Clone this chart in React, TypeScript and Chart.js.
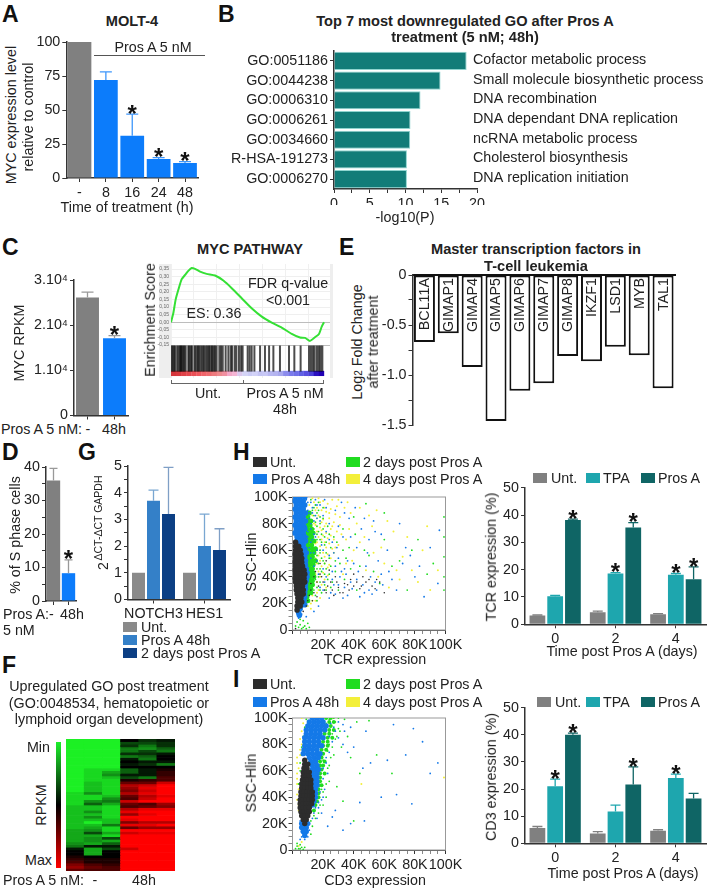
import React, { useEffect, useRef } from "react";
import { Chart, registerables } from "chart.js";
Chart.register(...registerables);

const FONT = '"Liberation Sans", Arial, sans-serif';
const INK = "#222";
const AX = "#333";
const SZ = 14.3;
const TITLE = 14.6;

// Panel A
const aLabels = ["-", "8", "16", "24", "48"];
const aValues = [100, 72, 31, 14, 11];
const aErrTop = [null, 78, 47, 15, 12];
const aStars = [false, false, true, true, true];
// Panel B
const bIds = ["GO:0051186", "GO:0044238", "GO:0006310", "GO:0006261", "GO:0034660", "R-HSA-191273", "GO:0006270"];
const bValues = [18.55, 14.9, 12.1, 10.7, 10.65, 10.2, 10.2];
const bNames = ["Cofactor metabolic process", "Small molecule biosynthetic process", "DNA recombination", "DNA dependant DNA replication", "ncRNA metabolic process", "Cholesterol biosynthesis", "DNA replication initiation"];
// Panel C
const cLabels = ["-", "48h"];
const cValues = [26100, 17100];
const cErrTop = [27300, 17700];
// GSEA
const gseaRank = [0, 1.5, 3, 4.8, 7, 9.2, 11.3, 13.5, 15.7, 19, 23.3, 28.8, 34.2, 39.7, 46.2, 52.7, 59.3, 65.8, 72.3, 78.9, 84.3, 87.6, 90.8, 94.1, 96.7, 98.5, 100];
const gseaScore = [0, 0.059, 0.147, 0.213, 0.283, 0.311, 0.338, 0.357, 0.351, 0.333, 0.318, 0.307, 0.274, 0.224, 0.158, 0.092, 0.037, -0.002, -0.035, -0.077, -0.101, -0.103, -0.123, -0.099, -0.077, -0.029, 0];
const gseaTicks = [-0.15, -0.1, -0.05, 0, 0.05, 0.1, 0.15, 0.2, 0.25, 0.3, 0.35];
const gseaHits = [0.4, 1.1, 2, 2.8, 4.1, 5, 5.9, 6.5, 7.2, 8.1, 8.7, 9.6, 11.3, 12, 12.9, 13.7, 15.3, 16.1, 17.2, 17.9, 18.7, 19.8, 20.7, 21.6, 22.7, 23.7, 24.6, 25.3, 26.4, 27, 27.9, 28.8, 29.8, 31.6, 32.7, 33.8, 35.7, 37.5, 39, 39.9, 41.6, 42.7, 44.4, 45.8, 46.8, 50.1, 51.4, 52.7, 54.5, 58.2, 61.4, 64.1, 66.9, 71.2, 77.1, 80.6, 84.7, 90.2, 91.5, 92.8, 93.9, 95.4, 96.7, 97.8, 98.9];
const ribbonColors = ["#d5343a", "#d8383e", "#e04248", "#e4484e", "#ea5056", "#ee585e", "#f0646a", "#ee6c70", "#ee7a7e", "#ee8a8e", "#f090a0", "#f4a8c8", "#f4b4d4", "#dcc8ee", "#d4d4f6", "#ccccf6", "#d2d2f8", "#c4c4f4", "#c8c8f6", "#b8b8f2", "#b4b4f0", "#a8a8ee", "#8c8cec", "#7a7aea", "#7070e8", "#6060e4", "#5850e0", "#4a40d8", "#2a10c0", "#2000b4"];
// Panel D
const dLabels = ["-", "48h"];
const dValues = [36, 8.3];
const dErrTop = [39.6, 12.3];
// Panel E
const eGenes = ["BCL11A", "GIMAP1", "GIMAP4", "GIMAP5", "GIMAP6", "GIMAP7", "GIMAP8", "IKZF1", "LSD1", "MYB", "TAL1"];
const eValues = [-0.67, -0.583, -0.92, -1.46, -1.157, -1.083, -0.81, -0.863, -0.717, -0.803, -1.133];
// Panel F
const fColumns = ["u1", "u2", "u3", "t1", "t2", "t3"];
const fMatrix = [
  [-10,-10,-10,0,-2,-1],[-10,-10,-10,-3,-3,-2],[-10,-10,-10,-2,-5,-2],[-10,-10,-10,-5,-6,-4],[-10,-10,-10,-5,-3,-5],
  [-10,-10,-10,-2,-2,-1],[-10,-10,-10,-5,-4,0],[-10,-10,-10,-1,-5,0],[-10,-10,-10,0,-1,-1],[-10,-10,-10,-1,-2,-5],
  [-10,-10,-10,0,0,0],[-10,-9,-9,-4,-1,1],[-10,-9,-7,-4,-1,2],[-10,-9,-6,-1,-1,2],[-10,-9,-8,-3,-5,3],
  [-10,-9,-9,1,2,3],[-10,-8,-9,4,4,8],[-10,-8,-9,7,8,10],[-10,-8,-9,6,9,10],[-10,-8,-9,5,8,10],
  [-9,-6,-9,7,9,10],[-9,-9,-8,4,7,9],[-9,-9,-6,3,8,10],[-9,-6,-5,8,10,10],[-9,-4,-7,4,3,6],
  [-8,-8,-9,3,4,5],[-8,-8,-9,7,9,9],[-8,-6,-9,9,10,10],[-8,-8,-9,6,9,10],[-8,-6,-9,10,10,10],
  [-8,-8,-8,9,10,10],[-8,-10,-8,5,7,7],[-8,-8,-5,9,9,10],[-8,-7,-9,4,6,6],[-7,-6,-9,10,10,10],
  [-7,-3,-7,8,9,9],[-7,-7,-9,10,10,10],[-7,-6,-3,10,10,10],[-7,-6,-7,10,10,10],[-6,-7,-4,10,10,10],
  [-5,-1,-1,10,10,10],[-1,-7,-3,8,10,10],[0,-7,0,10,10,10],[0,-7,0,10,10,10],[1,0,0,10,10,10],
  [2,1,1,10,10,10],[3,1,1,10,10,10],[5,3,2,10,10,10],[6,4,3,10,10,10],[4,3,3,10,10,10],
];
// Panel G
const gGroups = ["NOTCH3", "HES1"];
const gUnt = [1, 1];
const gPros48 = [3.7, 2.0];
const gPros48Err = [4.1, 3.2];
const gPost2 = [3.2, 1.85];
const gPost2Err = [4.95, 2.65];
// Panel H scatter (K units, x,y pairs)
const hDarkCore = [2,66,2,63,4,63,2,60,5,60,1.5,57,3.5,57,5.5,57,2,54,4,54,6,54,1.5,51,3.5,51,6,51,2,48,4,48,6.5,48,1.5,45,3.5,45,5.5,45,7.5,45,2,42,4,42,6,42,8,42,1.5,39,3.5,39,5.5,39,7.5,39,2,36,4,36,6,36,8,36,2.5,33,4.5,33,6.5,33,2.5,30,4.5,30,7,30,3,27,5,27,7,27,3.5,24,5.5,24,3.5,21,6,21,3,18,5,18,3,15];
const hBlueCore = [2,100,5,100,8,100,1.5,97,4,97,7,97,2.5,94,5.5,94,8,94,1.5,91,4,91,7,91,2.5,88,5.5,88,8.5,88,1.5,85,4,85,7,85,2.5,82,5.5,82,8.5,82,1.5,79,4,79,7,79,2.5,76,5.5,76,8,76,1.5,73,4,73,7,73,3,70,5.5,70,8,70,3,67,6,67,8.5,67,4.5,64,7,64,6,61,8,61,7,58,9,58,8,55,8.5,52,8.5,49,9,46,9.5,43,9.5,40,9,37,8.5,34,8.5,31,8,28,8,25,7.5,22,6,19,8,19,5,16,4,13,4.5,11];
const hGreenCore = [9,88,11,88,10,85,10,82,12,82,9.5,79,11.5,79,10,76,12.5,76,9.5,73,11.5,73,13.5,73,10.5,70,12.5,70,10,67,12,67,14,67,10,64,12.5,64,10.5,61,13,61,15,61,10,58,12,58,14,58,10.5,55,13,55,10.5,52,12.5,52,15,52,11,49,13.5,49,11,46,13,46,11.5,43,13.5,43,11.5,40,14,40,11,37,13,37,10.5,34,13,34,10.5,31,12,31,10,28,12,28,9.5,25,10,22];
const hYellowDots = [14,96,17,99,20,97,23,95,26,98,29,93,16,92,19,90,22,89,25,91,28,87,13,86,16,84,20,83,24,84,27,81,31,85,15,79,18,77,21,78,25,76,29,74,14,72,17,70,20,71,23,69,27,68,32,72,15,65,18,63,22,62,26,61,30,64,14,58,17,56,21,55,25,54,16,50,19,48,23,47,15,42,18,40,21,38,14,34,17,30,13,26,15,22,12,20,38,88,44,92,52,78,47,70,58,62,66,74,72,55,40,60,35,50,48,45,56,40,63,32,78,45,85,60,36,96,42,80,55,90,60,50,70,38,90,30,33,42,11,94,13,99,15,90,18,96,21,92,24,88,12,82,14,80,17,86,19,81,22,80,26,78,13,76,16,74,19,75,22,73,25,71,13,68,16,66,19,68,21,66,24,65,28,62,13,60,16,60,20,58,23,57,27,58,15,54,18,52,21,50,24,49,14,46,17,44,20,43,23,41,16,36,19,34,22,32,16,28,13,22,18,24,10,18,12,16,30,98,34,92,31,79,35,68,37,76,39,52,44,66,50,86,53,58,62,82,75,70,82,36,88,78,95,45,68,45];
const hGreenDots = [15,94,13,90,16,88,18,85,15,81,18,80,14,76,17,74,19,72,16,68,19,66,15,62,18,60,21,64,16,56,19,54,22,58,17,50,20,52,16,46,19,44,22,46,15,38,18,36,21,34,16,32,19,28,15,26,24,42,26,36,28,52,30,30,34,38,38,46,42,30,27,70,33,60,41,72,50,56,57,35,65,48,75,30,82,68,92,50,99,40,99,55,99,70,99,85,99,30,3,6,5,4,7,7,4,2,6,1,8,3,10,5,9,1,2,3,5,8,7,2,11,2,12,98,14,92,17,96,20,92,14,86,17,90,20,84,23,78,16,78,20,76,16,72,21,70,24,72,18,68,22,66,25,62,18,58,24,54,21,50,25,48,18,46,21,42,23,38,17,40,14,30,16,22,18,30,22,30,25,32,28,44,31,50,35,54,37,62,29,66,33,76,44,48,47,60,53,44,60,68,70,52,78,60,88,42,40,85,48,95,60,88];
const hBlueDots = [9,98,12,96,15,98,18,94,10,90,13,88,11,84,14,82,9,78,12,76,10,70,13,68,11,62,14,58,12,54,20,86,24,80,22,74,26,66,30,78,34,88,38,70,42,62,47,84,50,68,54,74,20,60,24,56,28,48,32,44,22,40,26,38,30,34,34,32,38,36,42,38,46,34,50,30,54,36,58,42,36,26,44,25,52,27,62,60,68,30,74,62,80,40,86,25,95,35,70,80,20,30,24,24,28,27,33,24,17,18,14,14,9,10,6,12,4,9,20,46,27,58,48,48,56,52,63,44,10,96,13,92,16,94,21,98,11,88,15,86,12,80,16,84,10,74,14,72,18,82,22,92,12,66,15,70,19,64,12,58,16,52,14,48,17,42,21,36,18,32,25,28,27,34,31,40,35,42,39,31,43,44,47,28,51,40,55,30,59,34,29,62,33,70,37,84,41,92,45,76,49,58,53,82,58,72,65,38,72,50,77,56,83,48,90,62,96,75,28,90,32,96,16,60,24,68,30,54,36,52,26,44,40,50,34,46];
const hDarkDots = [18,42,20,36,23,33,26,30,29,36,31,28,34,35,37,30,40,33,44,31,48,36,52,33,55,38,24,45,28,40,12,30,14,28,16,25,10,22,2,1,40,42,46,40,60,28,22,28,16,36,19,40,21,30,25,36,27,26,30,32,33,28,36,34,38,38,42,36,45,33,50,38,54,31,57,36,15,44,18,50,22,52,11,26,13,22,7,14,9,18,12,35,14,40,17,33];
// Panel I scatter
const iDarkCore = [8,68,8,65,10,65,7.5,62,9.5,62,7,59,9,59,11,59,7,56,9,56,11,56,6.5,53,8.5,53,10.5,53,12,53,6,50,8,50,10,50,12,50,6,47,8,47,10,47,12,47,5.5,44,7.5,44,9.5,44,11.5,44,13,44,5.5,41,7.5,41,9.5,41,11.5,41,13,41,5,38,7,38,9,38,11,38,13,38,5,35,7,35,9,35,11,35,12.5,35,5,32,7,32,9,32,11,32,5.5,29,7.5,29,9.5,29,11,29,6,26,8,26,10,26,7,23,9,23,8,20];
const iBlueCore = [13,100,16,100,19,100,11,97,14,97,17,97,20,97,10,94,13,94,16,94,19,94,22,94,9,91,12,91,15,91,18,91,21,91,9,88,12,88,15,88,18,88,8,85,11,85,14,85,17,85,20,85,8,82,11,82,14,82,17,82,8,79,11,79,14,79,17,79,19,79,7.5,76,10,76,13,76,16,76,7,73,10,73,13,73,16,73,18,73,11,70,14,70,17,70,12,67,15,67,13,64,16,64,13,61,15,61,17,61,13,58,16,58,14,55,16,55,14,52,16,52,14,49,16,49,15,46,15,43,15,40,14,37,13,34,6,20,10,20,6,17,9,17,7,14,9,14,8,11];
const iGreenCore = [22,100,25,100,24,97,27,97,25,94,24,91,27,91,21,88,24,88,23,85,26,85,20,82,23,82,20,79,23,79,19,76,22,76,20,73,19,70,18,67,21,67,18,64,20,64,19,61,18,58,21,58,18,55,18,52,17,49,19,49,17,46,17,43,17,40,16,37,15,34,14,30];
const iGreenDots = [24,99,28,97,22,96,30,92,26,88,28,84,24,80,23,75,27,72,20,68,24,64,21,58,24,52,19,46,22,40,20,34,17,28,15,24,13,18,12,12,2,1,3,3,4,1,5,4,6,2,7,0.5,3,5,5,1,8,2,32,78,36,86,42,97,50,98,38,70,44,58,55,72,65,58,29,48,33,37,40,22,5,60,5,66,6,72,6,78,7,86,8,93,9,99,4,50,14,26,12,22,18,34,20,44,22,50,23,62,25,70,26,78,29,86,31,90,27,100,30,100,34,99];
const iBlueDots = [18,100,27,93,30,97,33,95,24,86,22,70,20,62,23,58,18,44,20,40,17,36,15,32,19,28,13,24,6,14,8,8,10,10,11,15,5,8,34,90,38,93,48,90,79,92,66,95,40,78,46,62,51,66,74,72,62,68,85,82,95,66,90,58,78,35,68,42,58,40,44,36,38,20,47,22,33,15,28,30,26,25,23,18,16,24,14,28,17,32,19,38,21,46,20,54,22,66,24,74,26,82,28,90,25,96,4,38,5,22,6,10,9,13,11,20,30,85,33,80,36,74];
const iYellowDots = [3,70,3,66,4,62,3,58,3,54,3,50,4,46,3,42,3,38,4,34,4,30,5,26,5,72,5,76,6,80,5,84,6,90,7,96,6,100,4,3,6,6,26,100,20,90,45,50,99,55];
// TCR / CD3 bars
const timeLabels = ["0", "2", "4"];
const tcrUnt = [3.2, 4.4, 3.7];
const tcrUntErr = [3.4, 4.8, 3.9];
const tcrTpa = [10.3, 18.6, 18.1];
const tcrTpaErr = [10.6, 18.9, 18.6];
const tcrPros = [38.2, 35.4, 16.5];
const tcrProsErr = [38.5, 37.2, 21];
const tcrTpaStars = [false, true, true];
const tcrProsStars = [true, true, true];
const cd3Unt = [5.6, 3.6, 4.6];
const cd3UntErr = [6.2, 4.3, 5.0];
const cd3Tpa = [21, 11.7, 24.1];
const cd3TpaErr = [23.7, 14.1, 25.5];
const cd3Pros = [40, 21.7, 16.5];
const cd3ProsErr = [40.6, 28.2, 18.4];
const cd3TpaStars = [true, false, true];
const cd3ProsStars = [true, true, false];

const BLUE = "#0c7cfb", GRAY = "#808080", TEAL = "#127c78", TPA = "#1ea6ae", PROS = "#0f6565";
const G2 = "#3480c8", G3 = "#0c3f84";
const FLOW = { dark: "#2d2d2d", blue: "#1479e8", green: "#20dc20", yellow: "#f3ef3a" };

const marks = {
  id: "marks",
  afterDatasetsDraw(chart: any) {
    const { ctx, scales } = chart;
    chart.data.datasets.forEach((ds: any, i: number) => {
      const meta = chart.getDatasetMeta(i);
      ctx.save();
      (ds.err || []).forEach((e: any, j: number) => {
        if (e == null) return;
        const el = meta.data[j];
        const top = scales.y.getPixelForValue(e);
        ctx.strokeStyle = ds.errColor || ds.backgroundColor;
        ctx.lineWidth = 1.3;
        ctx.beginPath();
        ctx.moveTo(el.x, el.y);
        ctx.lineTo(el.x, top);
        ctx.moveTo(el.x - (ds.cap || 5), top);
        ctx.lineTo(el.x + (ds.cap || 5), top);
        ctx.stroke();
      });
      (ds.stars || []).forEach((s: any, j: number) => {
        if (!s) return;
        const el = meta.data[j];
        const e = ds.err && ds.err[j] != null ? scales.y.getPixelForValue(ds.err[j]) : el.y;
        ctx.fillStyle = "#111";
        ctx.font = `bold 24px ${FONT}`;
        ctx.textAlign = "center";
        ctx.textBaseline = "alphabetic";
        ctx.fillText("*", el.x, e + 7.7);
      });
      (ds.insideLabels || []).forEach((t: string, j: number) => {
        const el = meta.data[j];
        ctx.save();
        ctx.translate(el.x, scales.y.top + 3);
        ctx.rotate(-Math.PI / 2);
        ctx.fillStyle = INK;
        ctx.font = `${SZ}px ${FONT}`;
        ctx.textAlign = "right";
        ctx.textBaseline = "middle";
        ctx.fillText(t, 0, 0.5);
        ctx.restore();
      });
      (ds.sideLabels || []).forEach((t: string, j: number) => {
        const el = meta.data[j];
        ctx.fillStyle = INK;
        ctx.font = `${SZ}px ${FONT}`;
        ctx.textAlign = "left";
        ctx.textBaseline = "middle";
        ctx.fillText(t, ds.sideX, el.y - 1);
      });
      ctx.restore();
    });
  },
};
const plotBackground = {
  id: "plotBackground",
  beforeDatasetsDraw(chart: any) {
    const { ctx, chartArea: a } = chart;
    const o = chart.options.plugins.plotBackground || {};
    if (o.frame) {
      ctx.save();
      ctx.strokeStyle = o.frame;
      ctx.lineWidth = 1;
      ctx.strokeRect(a.left, a.top, a.right - a.left, a.bottom - a.top);
      ctx.restore();
    }
  },
  beforeDraw(chart: any) {
    const { ctx, chartArea: a } = chart;
    const o = chart.options.plugins.plotBackground || {};
    if (o.fill) {
      ctx.save();
      ctx.fillStyle = o.fill;
      ctx.fillRect(a.left, a.top, a.right - a.left, a.bottom - a.top);
      ctx.restore();
    }
  },
};

const tickFont = { family: FONT, size: SZ };
const valueAxis = (min: number, max: number, step: number, cb?: any) => ({
  min, max,
  ticks: { stepSize: step, color: INK, font: tickFont, padding: 2, autoSkip: false, maxRotation: 0, minRotation: 0, callback: cb || ((v: any) => v) },
  grid: { drawOnChartArea: false, tickColor: AX, tickLength: 4 },
  border: { color: AX, width: 1.5 },
});
const catAxis = (extra: any = {}) => ({
  ticks: { color: INK, font: tickFont, padding: 2, autoSkip: false, maxRotation: 0, ...extra },
  grid: { drawOnChartArea: false, offset: false, tickColor: AX, tickLength: 4 },
  border: { color: AX, width: 1.5 },
});
const base = (scales: any, pluginOpts: any = {}) => ({
  animation: false, responsive: false, maintainAspectRatio: false,
  plugins: { legend: { display: false }, tooltip: { enabled: false }, ...pluginOpts },
  scales,
});

function Plot({ rect, area, config, xTop }: any) {
  const ref = useRef<HTMLCanvasElement>(null);
  const [L, T, R, B] = rect;
  const [l, t, r, b] = area;
  useEffect(() => {
    const zero = (s: any) => { s.paddingLeft = s.paddingRight = s.paddingTop = s.paddingBottom = 0; };
    const cfg = { plugins: [marks, plotBackground], ...config };
    cfg.options.layout = { autoPadding: false, padding: { left: 0, right: R - r, top: xTop ? 0 : t - T, bottom: xTop ? B - b : 0 } };
    cfg.options.scales.x.afterFit = (s: any) => { s.height = xTop ? t - T : B - b; zero(s); };
    cfg.options.scales.y.afterFit = (s: any) => { s.width = l - L; zero(s); };
    const chart = new Chart(ref.current as any, cfg);
    return () => chart.destroy();
  }, []);
  return <canvas ref={ref} width={R - L} height={B - T} style={{ position: "absolute", left: L, top: T, width: R - L, height: B - T }} />;
}

function Tx({ x, y, children, a = "c", r = 0, b = false, s = SZ, c = INK }: any) {
  const tx = a === "l" ? "0" : a === "r" ? "-100%" : "-50%";
  return (
    <div style={{ position: "absolute", left: x, top: y, transform: `translate(${tx},-50%) rotate(${r}deg)`, whiteSpace: "nowrap", font: `${b ? "bold " : ""}${s}px ${FONT}`, lineHeight: 1, color: c }}>
      {children}
    </div>
  );
}
const Rect = ({ x, y, w, h, c }: any) => <div style={{ position: "absolute", left: x, top: y, width: w, height: h, background: c }} />;

const pairs = (flat: number[]) => {
  const out: any[] = [];
  for (let i = 0; i < flat.length; i += 2) out.push({ x: flat[i], y: flat[i + 1] });
  return out;
};
const cloud = (flat: number[], color: string, radius: number) => ({ data: pairs(flat), backgroundColor: color, borderWidth: 0, pointRadius: radius });

function barsA() {
  return {
    type: "bar",
    data: { labels: aLabels, datasets: [{ data: aValues, err: aErrTop, stars: aStars, errColor: "#3f97fb", cap: 6, barPercentage: 0.9, categoryPercentage: 1, backgroundColor: aLabels.map((_, i) => (i === 0 ? GRAY : BLUE)), borderWidth: 0 }] },
    options: base({ x: catAxis(), y: valueAxis(0, 100, 25) }),
  };
}
function barsB() {
  return {
    type: "bar",
    data: { labels: bIds, datasets: [{ data: bValues, sideLabels: bNames, sideX: 248, backgroundColor: TEAL, borderColor: "#8fd4cf", borderWidth: 1, barPercentage: 0.92, categoryPercentage: 1 }] },
    options: { indexAxis: "y", ...base({ x: valueAxis(0, 20, 2.5, (v: any) => (v % 5 === 0 ? v : "")), y: catAxis() }) },
  };
}
function barsC() {
  return {
    type: "bar",
    data: { labels: cLabels, datasets: [{ data: cValues, err: cErrTop, stars: [false, true], errColor: "#999", cap: 6, barPercentage: 0.85, categoryPercentage: 1, backgroundColor: [GRAY, BLUE], borderWidth: 0 }] },
    options: base({ x: catAxis({ display: false }), y: valueAxis(0, 30000, 10000, (v: any) => (v === 0 ? "0" : `${v / 10000}.10⁴`)) }),
  };
}
function gsea() {
  const bandY = -0.239, ribbonY = -0.337;
  const hits = gseaHits.map((x) => ({ x, y: bandY }));
  const ribbon = ribbonColors.map((_, i) => ({ x: ((i + 0.5) * 100) / ribbonColors.length, y: ribbonY }));
  return {
    type: "scatter",
    data: {
      datasets: [
        { data: gseaRank.map((x, i) => ({ x, y: gseaScore[i] })), showLine: true, borderColor: "#35e035", borderWidth: 2, pointRadius: 0, tension: 0.2 },
        { data: hits, pointStyle: "line", pointRotation: 90, pointRadius: 13, pointBorderWidth: 2, pointBorderColor: "rgba(0,0,0,0.7)", showLine: false },
        { data: ribbon, pointStyle: "line", pointRotation: 90, pointRadius: 2.6, pointBorderWidth: 5.4, pointBorderColor: ribbonColors, showLine: false },
      ],
    },
    options: base(
      {
        x: { type: "linear", min: 0, max: 103.9, afterBuildTicks: (s: any) => { s.ticks = [0, 15, 30, 45, 60, 75, 90].map((value) => ({ value })); }, ticks: { display: false }, grid: { color: "#f0f0f0", tickLength: 0 }, border: { display: false } },
        y: {
          min: -0.367, max: 0.383,
          afterBuildTicks: (s: any) => { s.ticks = gseaTicks.map((value) => ({ value })); },
          ticks: { font: { family: FONT, size: 5 }, color: "#666", padding: 2, autoSkip: false, callback: (v: any) => Number(v).toFixed(2).replace(".", ",") },
          grid: { color: (c: any) => (c.tick && (c.tick.value === 0 || c.tick.value === -0.15) ? "#bdbdbd" : "#efefef"), tickLength: 0 },
          border: { display: false },
        },
      },
      { plotBackground: { fill: "#fff" } }
    ),
  };
}
function barsD() {
  return {
    type: "bar",
    data: { labels: dLabels, datasets: [{ data: dValues, err: dErrTop, stars: [false, true], errColor: "#999", cap: 4, barPercentage: 0.89, categoryPercentage: 1, backgroundColor: [GRAY, BLUE], borderWidth: 0 }] },
    options: base({ x: catAxis({ display: false }), y: valueAxis(0, 40, 5, (v: any) => (v % 10 === 0 ? v : "")) }),
  };
}
function barsE() {
  return {
    type: "bar",
    data: { labels: eGenes, datasets: [{ data: eValues, insideLabels: eGenes, backgroundColor: "#fff", borderColor: "#111", borderWidth: 2, borderSkipped: false, barPercentage: 0.88, categoryPercentage: 1 }] },
    options: base({
      x: { position: "top", ticks: { display: false }, grid: { display: false }, border: { color: "#111", width: 2 } },
      y: valueAxis(-1.5, 0, 0.25, (v: any) => (v === 0 ? "0" : (v * 2) % 1 === 0 ? Number(v).toFixed(1) : "")),
    }),
  };
}
function heat() {
  const shade = (v: number) => {
    const k = Math.abs(v) / 10;
    return v < 0 ? `rgb(${Math.round(28 * k)},${Math.round(240 * k)},${Math.round(36 * k)})` : `rgb(${Math.round(255 * k)},0,0)`;
  };
  return {
    type: "bar",
    data: {
      labels: fColumns,
      datasets: fMatrix.map((row) => ({ data: row.map(() => 1), backgroundColor: row.map(shade), borderWidth: 0, barPercentage: 1, categoryPercentage: 1, stack: "s" })),
    },
    options: base({
      x: { display: false, stacked: true },
      y: { display: false, stacked: true, min: 0, max: fMatrix.length, reverse: true },
    }),
  };
}
function barsG() {
  const mk = (data: number[], color: string, err?: number[], errColor?: string) => ({ data, err, errColor, cap: 5, backgroundColor: color, borderWidth: 0, barPercentage: 0.867, categoryPercentage: 0.882 });
  return {
    type: "bar",
    data: { labels: gGroups, datasets: [mk(gUnt, "#8a8a8a"), mk(gPros48, G2, gPros48Err, "#7aa7d2"), mk(gPost2, G3, gPost2Err, "#7f9fc6")] },
    options: base({ x: catAxis(), y: valueAxis(0, 5, 0.5, (v: any) => (v % 1 === 0 ? v : "")) }),
  };
}
function flow(sets: any[]) {
  const k = (v: any) => (v % 20 === 0 ? (v === 0 ? "0" : `${v}K`) : "");
  const minor = (c: any) => (c.tick && c.tick.value % 20 === 0 ? AX : "#888");
  return {
    type: "scatter",
    data: { datasets: sets },
    options: base(
      {
        x: { type: "linear", min: 0, max: 100, ticks: { stepSize: 5, autoSkip: false, maxRotation: 0, minRotation: 0, color: INK, font: tickFont, padding: 2, callback: (v: any) => (v === 0 ? "" : k(v)) }, grid: { drawOnChartArea: false, tickColor: minor, tickLength: 4 }, border: { color: "#444", width: 1 } },
        y: { type: "linear", min: 0, max: 100, ticks: { stepSize: 5, autoSkip: false, color: INK, font: tickFont, padding: 1, callback: k }, grid: { drawOnChartArea: false, tickColor: minor, tickLength: 4 }, border: { color: "#444", width: 1 } },
      },
      { plotBackground: { frame: "#999" } }
    ),
  };
}
function barsTriple(u: number[], ue: number[], t: number[], te: number[], ts: boolean[], p: number[], pe: number[], ps: boolean[]) {
  const mk = (data: number[], color: string, err: number[], stars?: boolean[]) => ({ data, err, stars, errColor: color, cap: 5, backgroundColor: color, borderWidth: 0, barPercentage: 0.887, categoryPercentage: 0.883 });
  return {
    type: "bar",
    data: { labels: timeLabels, datasets: [mk(u, GRAY, ue), mk(t, TPA, te, ts), mk(p, PROS, pe, ps)] },
    options: base({ x: catAxis(), y: valueAxis(0, 50, 10) }),
  };
}

function Legend4({ y1, y2, blueX }: any) {
  return (
    <>
      <Rect x={253} y={y1 - 5} w={14} h={10} c={FLOW.dark} />
      <Tx x={270} y={y1} a="l">Unt.</Tx>
      <Rect x={346} y={y1 - 5} w={14} h={10} c={FLOW.green} />
      <Tx x={363} y={y1} a="l">2 days post Pros A</Tx>
      <Rect x={253} y={y2 - 5} w={14} h={10} c={FLOW.blue} />
      <Tx x={blueX} y={y2} a="l">Pros A 48h</Tx>
      <Rect x={346} y={y2 - 5} w={14} h={10} c={FLOW.yellow} />
      <Tx x={363} y={y2} a="l">4 days post Pros A</Tx>
    </>
  );
}
function Legend3({ y, untX }: any) {
  return (
    <>
      <Rect x={untX} y={y - 5} w={14} h={10} c={GRAY} />
      <Tx x={untX + 18} y={y} a="l">Unt.</Tx>
      <Rect x={586} y={y - 5} w={14} h={10} c={TPA} />
      <Tx x={603} y={y} a="l">TPA</Tx>
      <Rect x={641} y={y - 5} w={14} h={10} c={PROS} />
      <Tx x={658} y={y} a="l">Pros A</Tx>
    </>
  );
}

export default function App() {
  useEffect(() => { document.body.style.margin = "0"; }, []);
  return (
    <div style={{ position: "absolute", left: 0, top: 0, width: 709, height: 889, overflow: "hidden", background: "#fff" }}>
      {[["A", 2, 14], ["B", 218, 14], ["C", 2, 247], ["E", 339, 247], ["D", 2, 452], ["G", 78, 452], ["H", 233, 452], ["F", 2, 665], ["I", 233, 679]].map(([t, x, y]: any) => (
        <Tx key={t} x={x} y={y} a="l" b s={23} c="#111">{t}</Tx>
      ))}

      {/* A */}
      <Plot rect={[30, 30, 205, 200]} area={[66.3, 42, 198.2, 178]} config={barsA()} />
      <Tx x={132} y={21} b s={TITLE}>MOLT-4</Tx>
      <Tx x={153} y={47}>Pros A 5 nM</Tx>
      <Rect x={94} y={54.5} w={111} h={1.5} c="#555" />
      <Tx x={11} y={115} r={-90}>MYC expression level</Tx>
      <Tx x={28} y={117} r={-90}>relative to control</Tx>
      <Tx x={127} y={207}>Time of treatment (h)</Tx>

      {/* B */}
      <Plot rect={[225, 45, 709, 205]} area={[334, 51, 477, 189]} config={barsB()} />
      <Tx x={465} y={21} b s={TITLE}>Top 7 most downregulated GO after Pros A</Tx>
      <Tx x={465} y={37} b s={TITLE}>treatment (5 nM; 48h)</Tx>
      <Tx x={405} y={217}>-log10(P)</Tx>

      {/* C */}
      <Plot rect={[30, 270, 135, 420]} area={[74, 280, 128, 415.5]} config={barsC()} />
      <Tx x={19} y={343} r={-90}>MYC RPKM</Tx>
      <Tx x={1} y={429} a="l">Pros A 5 nM:</Tx>
      <Tx x={88} y={429}>-</Tx>
      <Tx x={114} y={429}>48h</Tx>

      {/* GSEA */}
      <Rect x={159} y={264} w={174} h={114} c="#eeeeee" />
      <Plot rect={[150, 260, 335, 385]} area={[171, 264, 330, 378]} config={gsea()} />
      <Tx x={250} y={249} b s={TITLE}>MYC PATHWAY</Tx>
      <Tx x={150} y={320} r={-90}>Enrichment Score</Tx>
      <Tx x={288} y={283}>FDR q-value</Tx>
      <Tx x={288} y={300}>&lt;0.001</Tx>
      <Tx x={214} y={313}>ES: 0.36</Tx>
      <Rect x={171} y={383} w={153} h={1} c="#666" />
      <Rect x={171} y={380} w={1} h={3} c="#666" />
      <Rect x={243} y={380} w={1} h={3} c="#666" />
      <Rect x={323} y={380} w={1} h={3} c="#666" />
      <Tx x={208} y={393}>Unt.</Tx>
      <Tx x={285} y={393}>Pros A 5 nM</Tx>
      <Tx x={285} y={409}>48h</Tx>

      {/* E */}
      <Plot rect={[375, 265, 690, 435]} area={[412.5, 275, 675, 425]} config={barsE()} xTop />
      <Tx x={536} y={249} b s={TITLE}>Master transcription factors in</Tx>
      <Tx x={536} y={266} b s={TITLE}>T-cell leukemia</Tx>
      <Tx x={357} y={342} r={-90}>Log<span style={{ fontSize: 10 }}>2</span> Fold Change</Tx>
      <Tx x={373} y={342} r={-90}>after treatment</Tx>

      {/* D */}
      <Plot rect={[15, 455, 80, 605]} area={[46, 467, 76, 601]} config={barsD()} />
      <Tx x={15} y={535} r={-90}>% of S phase cells</Tx>
      <Tx x={3} y={614} a="l">Pros A:-</Tx>
      <Tx x={60} y={614} a="l">48h</Tx>
      <Tx x={3} y={630} a="l">5 nM</Tx>

      {/* G */}
      <Plot rect={[105, 455, 235, 620]} area={[128, 466, 230, 599.5]} config={barsG()} />
      <Tx x={103} y={566} s={14} r={-90}>2</Tx>
      <Tx x={98} y={518} s={10.5} r={-90}>ΔCT-ΔCT GAPDH</Tx>
      <Rect x={123} y={622} w={14} h={10} c="#8a8a8a" />
      <Tx x={141} y={627} a="l">Unt.</Tx>
      <Rect x={123} y={635} w={14} h={10} c={G2} />
      <Tx x={141} y={640} a="l">Pros A 48h</Tx>
      <Rect x={123} y={648} w={14} h={10} c={G3} />
      <Tx x={141} y={653} a="l">2 days post Pros A</Tx>

      {/* H scatter */}
      <Plot rect={[255, 490, 470, 650]} area={[292.5, 497, 445.5, 630]} config={flow([
        cloud(hDarkCore, FLOW.dark, 2.8), cloud(hDarkDots, FLOW.dark, 0.8),
        cloud(hBlueDots, FLOW.blue, 0.9), cloud(hBlueCore, FLOW.blue, 2.8),
        cloud(hGreenDots, FLOW.green, 0.9), cloud(hGreenCore, FLOW.green, 2.5),
        cloud(hYellowDots, FLOW.yellow, 1),
      ])} />
      <Legend4 y1={462} y2={479} blueX={271} />
      <Tx x={251} y={562} r={-90}>SSC-Hlin</Tx>
      <Tx x={375} y={659}>TCR expression</Tx>

      {/* H bars */}
      <Plot rect={[490, 480, 709, 645]} area={[525, 487.7, 706, 624.3]} config={barsTriple(tcrUnt, tcrUntErr, tcrTpa, tcrTpaErr, tcrTpaStars, tcrPros, tcrProsErr, tcrProsStars)} />
      <Legend3 y={478} untX={533} />
      <Tx x={491} y={557} r={-90}>TCR expression (%)</Tx>
      <Tx x={622} y={651}>Time post Pros A (days)</Tx>

      {/* F */}
      <Tx x={109} y={686}>Upregulated GO post treatment</Tx>
      <Tx x={109} y={703}>(GO:0048534, hematopoietic or</Tx>
      <Tx x={109} y={719}>lymphoid organ development)</Tx>
      <div style={{ position: "absolute", left: 55.5, top: 742, width: 5.5, height: 126, background: "linear-gradient(#1cf02c, #000 50%, #ff0000)" }} />
      <Tx x={50} y={747} a="r">Min</Tx>
      <Tx x={52} y={860} a="r">Max</Tx>
      <Tx x={41} y={805} r={-90}>RPKM</Tx>
      <Plot rect={[66, 739, 175, 871]} area={[66, 739, 175, 871]} config={heat()} />
      <Tx x={3} y={880} a="l">Pros A 5 nM:</Tx>
      <Tx x={95} y={880}>-</Tx>
      <Tx x={144} y={880}>48h</Tx>

      {/* I scatter */}
      <Plot rect={[255, 712, 470, 872]} area={[292.5, 718, 445.5, 850]} config={flow([
        cloud(iDarkCore, FLOW.dark, 2.7),
        cloud(iBlueDots, FLOW.blue, 0.9), cloud(iBlueCore, FLOW.blue, 2.7),
        cloud(iGreenDots, FLOW.green, 0.9), cloud(iGreenCore, FLOW.green, 2),
        cloud(iYellowDots, FLOW.yellow, 1),
      ])} />
      <Legend4 y1={684} y2={702} blueX={270} />
      <Tx x={251} y={783} r={-90}>SSC-Hlin</Tx>
      <Tx x={375} y={880}>CD3 expression</Tx>

      {/* I bars */}
      <Plot rect={[490, 700, 709, 865]} area={[525, 707.7, 706, 843.3]} config={barsTriple(cd3Unt, cd3UntErr, cd3Tpa, cd3TpaErr, cd3TpaStars, cd3Pros, cd3ProsErr, cd3ProsStars)} />
      <Legend3 y={702} untX={537} />
      <Tx x={491} y={777} r={-90}>CD3 expression (%)</Tx>
      <Tx x={623} y={873}>Time post Pros A (days)</Tx>
    </div>
  );
}
